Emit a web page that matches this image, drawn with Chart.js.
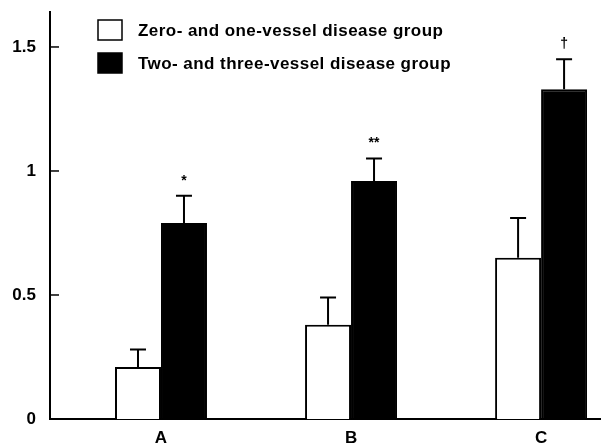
<!DOCTYPE html>
<html>
<head>
<meta charset="utf-8">
<script src="https://cdn.jsdelivr.net/npm/chart.js@4"></script>
<style>
html,body{margin:0;padding:0;background:#fff;}
#wrap{width:601px;height:445px;position:relative;}
</style>
</head>
<body>
<div id="wrap"><canvas id="c" width="601" height="445"></canvas></div>
<script>
const categories = ['A', 'B', 'C'];
const seriesNames = ['Zero- and one-vessel disease group', 'Two- and three-vessel disease group'];
const lowValues = [0.21, 0.38, 0.65];
const lowErrors = [0.07, 0.11, 0.16];
const highValues = [0.79, 0.96, 1.33];
const highErrors = [0.11, 0.09, 0.12];
const significance = ['*', '**', '\u2020'];
const yTicks = [0, 0.5, 1, 1.5];
const yTickLabels = ['0', '0.5', '1', '1.5'];

const FONT = '"Liberation Sans", Arial, Helvetica, sans-serif';

const toPoints = vals => vals.map((v, i) => ({x: i + 1, y: v}));

const errorPlugin = {
  id: 'errs',
  afterDatasetsDraw(chart) {
    const ctx = chart.ctx;
    const ys = chart.scales.y;
    const errs = [lowErrors, highErrors];
    ctx.save();
    ctx.strokeStyle = '#000';
    ctx.lineWidth = 2;
    chart.data.datasets.forEach((ds, di) => {
      const meta = chart.getDatasetMeta(di);
      meta.data.forEach((el, j) => {
        const v = ds.data[j].y;
        const top = ys.getPixelForValue(v + errs[di][j]);
        ctx.beginPath();
        ctx.moveTo(el.x, el.y);
        ctx.lineTo(el.x, top);
        ctx.moveTo(el.x - 8, top);
        ctx.lineTo(el.x + 8, top);
        ctx.stroke();
        if (di === 1) {
          ctx.fillStyle = '#000';
          ctx.font = 'bold 14px ' + FONT;
          ctx.textAlign = 'center';
          ctx.textBaseline = 'middle';
          ctx.fillText(significance[j], el.x, top - 15);
        }
      });
    });
    // inward y ticks
    ctx.lineWidth = 1.5;
    yTicks.forEach(t => {
      const y = ys.getPixelForValue(t);
      ctx.beginPath();
      ctx.moveTo(chart.chartArea.left, y);
      ctx.lineTo(chart.chartArea.left + 9, y);
      ctx.stroke();
    });
    // legend
    const items = [{fill: '#fff', y: 20}, {fill: '#000', y: 53}];
    ctx.font = 'bold 17px ' + FONT;
    ctx.letterSpacing = '0.45px';
    ctx.textAlign = 'left';
    ctx.textBaseline = 'middle';
    items.forEach((it, k) => {
      ctx.fillStyle = it.fill;
      ctx.fillRect(98, it.y, 24, 20);
      ctx.lineWidth = 1.5;
      ctx.strokeStyle = '#000';
      ctx.strokeRect(98, it.y, 24, 20);
      ctx.fillStyle = '#000';
      ctx.fillText(chart.data.datasets[k].label, 138, it.y + 11);
    });
    ctx.restore();
  }
};

new Chart(document.getElementById('c'), {
  type: 'bar',
  data: {
    datasets: [
      {label: seriesNames[0], data: toPoints(lowValues), backgroundColor: '#fff', borderColor: '#000', borderWidth: 2, categoryPercentage: 0.484, barPercentage: 1},
      {label: seriesNames[1], data: toPoints(highValues), backgroundColor: '#000', borderColor: '#000', borderWidth: 2, categoryPercentage: 0.484, barPercentage: 1}
    ]
  },
  options: {
    responsive: false,
    animation: false,
    layout: {padding: {top: 12, right: 1, left: 0, bottom: 0}},
    plugins: {legend: {display: false}, tooltip: {enabled: false}},
    scales: {
      x: {
        type: 'linear',
        offset: false,
        min: 0.416,
        max: 3.31,
        grid: {display: false, drawTicks: false, offset: false},
        border: {display: true, color: '#000', width: 2},
        afterBuildTicks: s => { s.ticks = categories.map((c, i) => ({value: i + 1})); },
        afterFit: s => { s.height = 26; s.paddingLeft = 0; s.paddingRight = 0; },
        ticks: {
          color: '#000',
          padding: 9,
          autoSkip: false,
          maxRotation: 0,
          font: {family: FONT, size: 17, weight: 'bold'},
          callback: v => categories[Math.round(v) - 1] || ''
        }
      },
      y: {
        min: 0,
        max: 1.641,
        grid: {display: false, drawTicks: false},
        border: {display: true, color: '#000', width: 2},
        afterBuildTicks: s => { s.ticks = yTicks.map(v => ({value: v})); },
        afterFit: s => { s.width = 50; s.paddingTop = 0; s.paddingBottom = 0; },
        ticks: {
          color: '#000',
          padding: 14,
          font: {family: FONT, size: 17, weight: 'bold'},
          callback: v => { const i = yTicks.indexOf(v); return i >= 0 ? yTickLabels[i] : ''; }
        }
      }
    }
  },
  plugins: [errorPlugin]
});
</script>
</body>
</html>
